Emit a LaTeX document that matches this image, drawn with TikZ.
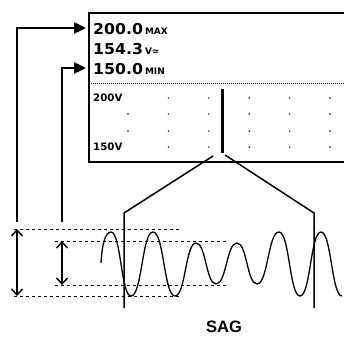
\documentclass[tikz,border=0pt]{standalone}
\usepackage{fontspec}
\usetikzlibrary{arrows.meta}
\newfontfamily\lcdbig{DejaVu Sans}[FakeStretch=1.05]
\newfontfamily\lcdsmall{DejaVu Sans}
\newfontfamily\capfont{Liberation Sans}

\tikzset{
  scrline/.style={line width=2pt},
  sepline/.style={line width=0.8pt, dash pattern=on 1pt off 1pt},
  lvlline/.style={line width=0.9pt, dash pattern=on 3pt off 3pt},
  ptrarrow/.style={line width=2.4pt, -{Triangle[length=12pt,width=11pt]}},
  spanarrow/.style={line width=1.4pt, {Straight Barb[length=6pt,width=11pt]}-{Straight Barb[length=6pt,width=11pt]}},
  zoomline/.style={line width=1.5pt},
  sigline/.style={line width=1.3pt, line join=round},
  bigread/.style={font=\lcdbig\bfseries\fontsize{15}{17}\selectfont, anchor=base west, inner sep=0pt},
  scalelab/.style={font=\lcdsmall\bfseries\fontsize{10.2}{12}\selectfont, anchor=base west, inner sep=0pt},
}
\newcommand{\rdunit}[1]{\hspace{2pt}{\lcdsmall\fontsize{9}{10}\selectfont #1}}

\begin{document}
\begin{tikzpicture}[x=1pt,y=-1pt]
  \useasboundingbox (0,0) rectangle (344,336);
  % screen of the meter
  \draw[scrline] (347,13) -- (89,13) -- (89,162) -- (347,162);
  \draw[sepline] (89,83) -- (347,83);
  \node[bigread] (maxval) at (93,35) {200.0\rdunit{MAX}};
  \node[bigread] (rmsval) at (93,55) {154.3\rdunit{V≃}};
  \node[bigread] (minval) at (93,75) {150.0\rdunit{MIN}};
  \node[scalelab] (hiscale) at (93,102) {200V};
  \node[scalelab] (loscale) at (93,151) {150V};
  \foreach \y/\s in {98/1,114/0,131/0,147/1}
    \foreach \i in {\s,...,5} \fill ({128+40.4*\i},\y) circle (0.8pt);
  \draw[line width=3pt] (222,89) -- (222,153);

  % pointers to the readings
  \coordinate (maxin) at (86,28);
  \coordinate (minin) at (86,68);
  \coordinate (maxfoot) at (17,222);
  \coordinate (minfoot) at (62,222);
  \draw[ptrarrow] (maxfoot) |- (maxin);
  \draw[ptrarrow] (minfoot) |- (minin);

  % levels of the signal
  \coordinate (maxtop) at (17,229);
  \coordinate (maxbot) at (17,296);
  \coordinate (mintop) at (62,241);
  \coordinate (minbot) at (62,285);
  \draw[lvlline] (14,229) -- (182,229);
  \draw[lvlline] (14,296) -- (182,296);
  \draw[lvlline] (55,241) -- (228,241);
  \draw[lvlline] (55,285) -- (228,285);
  \draw[spanarrow] (maxtop) -- (maxbot);
  \draw[spanarrow] (mintop) -- (minbot);

  % zoom from the cursor
  \coordinate (curl) at (213,156);
  \coordinate (curr) at (225,155);
  \draw[zoomline] (curl) -- (124,213) -- (124,308);
  \draw[zoomline] (curr) -- (314,213) -- (314,308);

  % the waveform
  \draw[sigline] (101,263) .. controls (102,245) and (105,232) .. (111,232)
    \foreach \x/\y [remember=\x as \lx (initially 111), remember=\y as \ly (initially 232)]
      in {131/296,153/232,175/296,196/243,216/284,237/243,257/284,279/232,300/296,321/232,342/296}
      { .. controls ({\lx+0.5*(\x-\lx)},\ly) and ({\x-0.5*(\x-\lx)},\y) .. (\x,\y) };

  \node[font=\capfont\bfseries\fontsize{16.5}{18}\selectfont, anchor=base] (sag) at (224,332) {SAG};
\end{tikzpicture}
\end{document}
